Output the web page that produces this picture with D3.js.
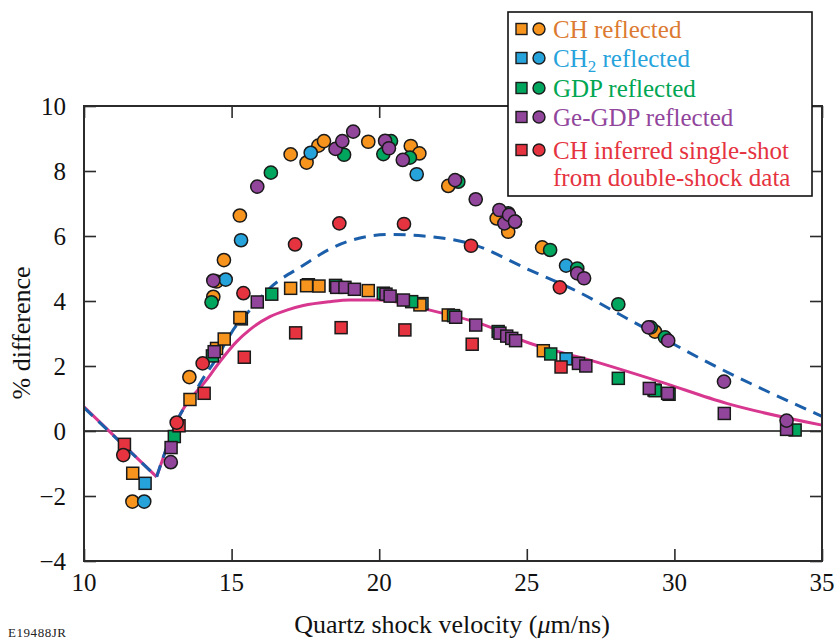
<!DOCTYPE html>
<html>
<head>
<meta charset="utf-8">
<script src="https://cdn.jsdelivr.net/npm/d3@7/dist/d3.min.js"></script>
<style>
  html, body { margin: 0; padding: 0; background: #fff; }
  svg { display: block; }
  svg text { font-family: "Liberation Serif", "Times New Roman", serif; }
</style>
</head>
<body>
<svg id="chart" width="835" height="641"></svg>
<script>
// ---- data: [quartz shock velocity (um/ns), % difference] ----
const chSquares = [[11.65,-1.30],[13.59,0.97],[14.49,2.54],[14.75,2.83],[15.28,3.49],[17.00,4.39],[17.54,4.47],[17.96,4.46],[19.63,4.32],[21.38,3.88],[22.34,3.57],[25.56,2.47],[29.31,1.26]];
const ch2Squares = [[12.07,-1.61],[15.33,3.45],[17.60,4.50],[21.45,3.92],[26.33,2.22]];
const gdpSquares = [[13.06,-0.17],[14.35,2.31],[16.36,4.21],[18.52,4.48],[20.14,4.24],[21.10,3.98],[22.52,3.55],[24.03,3.06],[25.81,2.37],[28.10,1.62],[29.35,1.24],[29.82,1.13],[34.09,0.03]];
const geSquares = [[12.95,-0.51],[14.41,2.44],[15.87,3.97],[18.56,4.42],[18.84,4.42],[19.16,4.36],[20.23,4.21],[20.37,4.15],[20.82,4.03],[22.59,3.50],[23.27,3.26],[24.09,3.01],[24.32,2.92],[24.49,2.85],[24.62,2.78],[26.75,2.08],[27.00,2.00],[29.15,1.31],[29.77,1.16],[31.69,0.54],[33.80,0.05]];
const redSquares = [[11.37,-0.41],[13.22,0.16],[14.07,1.16],[15.43,2.27],[17.17,3.02],[18.71,3.18],[20.87,3.11],[23.15,2.67],[26.16,1.97]];

const chCircles = [[11.64,-2.17],[13.57,1.66],[14.38,4.13],[14.49,4.60],[14.74,5.26],[15.28,6.63],[17.00,8.51],[17.54,8.26],[17.94,8.78],[18.13,8.92],[19.63,8.90],[21.07,8.77],[21.36,8.54],[22.34,7.54],[23.98,6.54],[24.37,6.13],[25.52,5.65],[29.34,3.06]];
const ch2Circles = [[12.04,-2.17],[14.80,4.66],[15.32,5.87],[17.68,8.56],[21.27,7.90],[26.33,5.09]];
const gdpCircles = [[14.32,3.96],[16.33,7.95],[18.81,8.50],[20.14,8.52],[20.40,8.92],[21.04,8.41],[22.68,7.67],[24.37,6.70],[24.60,6.44],[25.79,5.57],[26.71,5.00],[28.10,3.90],[29.20,3.19],[29.68,2.88]];
const geCircles = [[12.94,-0.96],[14.38,4.63],[15.87,7.52],[18.52,8.68],[18.75,8.92],[19.12,9.21],[20.20,8.93],[20.33,8.70],[20.80,8.34],[22.57,7.72],[23.27,7.13],[24.07,6.80],[24.24,6.39],[24.40,6.65],[24.60,6.44],[26.71,4.85],[26.94,4.70],[29.12,3.19],[29.79,2.78],[31.68,1.52],[33.80,0.32]];
const redCircles = [[11.33,-0.74],[13.14,0.26],[14.02,2.08],[15.40,4.24],[17.15,5.74],[18.65,6.39],[20.84,6.37],[23.11,5.70],[26.12,4.42]];

// model curves (kink at the low-velocity minimum)
const dashedCurve = [[10,0.72],[12.46,-1.41],[12.69,-0.79],[13.25,0.49],[13.59,0.95],[14.15,1.78],[14.38,2.08],[15.17,3.26],[15.62,3.72],[16.30,4.40],[17.43,5.10],[18.33,5.60],[18.90,5.82],[20.37,6.05],[21.50,6.00],[23.07,5.77],[25.10,4.95],[26.70,4.30],[28.38,3.47],[31.20,2.08],[35,0.45]];
const solidCurve = [[10,0.74],[12.46,-1.41],[13.25,0.49],[14.15,1.57],[14.60,2.13],[15.17,2.75],[15.62,3.12],[16.30,3.52],[16.87,3.72],[17.43,3.86],[18.33,3.98],[19.00,4.03],[20.03,4.03],[21.72,3.72],[23.41,3.31],[25.10,2.70],[27.14,2.18],[29.50,1.52],[31.77,0.85],[35,0.18]];

const xTicks = [10, 15, 20, 25, 30, 35];
const yTicks = [-4, -2, 0, 2, 4, 6, 8, 10];

const legendLabels = ["CH reflected", "CH2 reflected", "GDP reflected", "Ge-GDP reflected", "CH inferred single-shot"];
const markerColors = ["#f7941d", "#27a3dc", "#00a65e", "#91469c", "#e5333f"];
const textColors   = ["#dc7a31", "#27a3dc", "#00a652", "#91469c", "#e5333f"];

// ---- layout ----
const svg = d3.select("#chart");
const L = 84, R = 822, T = 106, B = 561;
const x = d3.scaleLinear().domain([10, 35]).range([L, R]);
const y = d3.scaleLinear().domain([-4, 10]).range([B, T]);
const ink = "#2b2b2b";

// zero line
svg.append("line").attr("x1", L).attr("x2", R).attr("y1", y(0)).attr("y2", y(0))
  .attr("stroke", "#111").attr("stroke-width", 1.5);

// curves: straight segment down to the kink, smooth afterwards
function drawCurve(pts, color, dash) {
  const seg1 = pts.slice(0, 2), seg2 = pts.slice(1);
  const lin = d3.line().x(d => x(d[0])).y(d => y(d[1]));
  const smooth = d3.line().x(d => x(d[0])).y(d => y(d[1])).curve(d3.curveMonotoneX);
  [[seg1, lin], [seg2, smooth]].forEach(([s, gen]) => {
    svg.append("path").attr("d", gen(s)).attr("fill", "none")
      .attr("stroke", color).attr("stroke-width", 3)
      .attr("stroke-dasharray", dash || null);
  });
}
drawCurve(solidCurve, "#d8378f", null);
drawCurve(dashedCurve, "#1b5ea9", "12,8");

// markers
const sq = 12, rad = 6.6;
function squares(data, color) {
  svg.append("g").selectAll("rect").data(data).join("rect")
    .attr("x", d => x(d[0]) - sq / 2).attr("y", d => y(d[1]) - sq / 2)
    .attr("width", sq).attr("height", sq)
    .attr("fill", color).attr("stroke", "#1a1a1a").attr("stroke-width", 1.5);
}
function circles(data, color) {
  svg.append("g").selectAll("circle").data(data).join("circle")
    .attr("cx", d => x(d[0])).attr("cy", d => y(d[1])).attr("r", rad)
    .attr("fill", color).attr("stroke", "#1a1a1a").attr("stroke-width", 1.5);
}
squares(ch2Squares, markerColors[1]);
squares(chSquares, markerColors[0]);
squares(gdpSquares, markerColors[2]);
squares(geSquares, markerColors[3]);
squares(redSquares, markerColors[4]);
circles(chCircles, markerColors[0]);
circles(ch2Circles, markerColors[1]);
circles(gdpCircles, markerColors[2]);
circles(geCircles, markerColors[3]);
circles(redCircles, markerColors[4]);

// frame and inward ticks on all four sides
const tl = 12;
svg.append("g").attr("transform", `translate(0,${B})`)
  .call(d3.axisTop(x).tickValues(xTicks).tickSize(tl).tickFormat(""))
  .call(g => g.select(".domain").remove());
svg.append("g").attr("transform", `translate(0,${T})`)
  .call(d3.axisBottom(x).tickValues(xTicks).tickSize(tl).tickFormat(""))
  .call(g => g.select(".domain").remove());
svg.append("g").attr("transform", `translate(${L},0)`)
  .call(d3.axisRight(y).tickValues(yTicks).tickSize(tl).tickFormat(""))
  .call(g => g.select(".domain").remove());
svg.append("g").attr("transform", `translate(${R},0)`)
  .call(d3.axisLeft(y).tickValues(yTicks).tickSize(tl).tickFormat(""))
  .call(g => g.select(".domain").remove());
svg.selectAll(".tick line").attr("stroke", ink).attr("stroke-width", 1.6);
svg.append("rect").attr("x", L).attr("y", T).attr("width", R - L).attr("height", B - T)
  .attr("fill", "none").attr("stroke", ink).attr("stroke-width", 2);

// tick labels
const fmt = v => (v < 0 ? "\u2212" + Math.abs(v) : String(v));
svg.append("g").selectAll("text").data(xTicks).join("text")
  .attr("x", d => x(d)).attr("y", 591).attr("text-anchor", "middle")
  .attr("font-size", 25).attr("fill", "#111").text(fmt);
svg.append("g").selectAll("text").data(yTicks).join("text")
  .attr("x", 66).attr("y", d => y(d) + 8.5).attr("text-anchor", "end")
  .attr("font-size", 25).attr("fill", "#111").text(fmt);

// axis titles
const xt = svg.append("text").attr("x", 452).attr("y", 633).attr("text-anchor", "middle")
  .attr("font-size", 26).attr("fill", "#111");
xt.append("tspan").text("Quartz shock velocity (");
xt.append("tspan").attr("font-style", "italic").text("\u03bc");
xt.append("tspan").text("m/ns)");
svg.append("text").attr("transform", "translate(30,333) rotate(-90)")
  .attr("text-anchor", "middle").attr("font-size", 26).attr("fill", "#111")
  .text("% difference");
svg.append("text").attr("x", 8).attr("y", 637).attr("font-size", 13)
  .attr("fill", "#222").attr("textLength", 58).text("E19488JR");

// legend
const lg = svg.append("g");
lg.append("rect").attr("x", 508).attr("y", 12).attr("width", 304).attr("height", 184)
  .attr("fill", "#fff").attr("stroke", "#111").attr("stroke-width", 1.6);
const rowY = [29, 58, 88, 117, 150];
legendLabels.forEach((lab, i) => {
  const cy = rowY[i];
  lg.append("rect").attr("x", 516).attr("y", cy - 5.5).attr("width", 11).attr("height", 11)
    .attr("fill", markerColors[i]).attr("stroke", "#1a1a1a").attr("stroke-width", 1.4);
  lg.append("circle").attr("cx", 539).attr("cy", cy).attr("r", 6)
    .attr("fill", markerColors[i]).attr("stroke", "#1a1a1a").attr("stroke-width", 1.4);
  const t = lg.append("text").attr("x", 553).attr("y", cy + 8.5)
    .attr("font-size", 25).attr("fill", textColors[i]);
  if (lab.startsWith("CH2")) {
    t.append("tspan").text("CH");
    t.append("tspan").attr("font-size", 17).attr("dy", 5).text("2");
    t.append("tspan").attr("dy", -5).text(" reflected");
  } else {
    t.text(lab);
  }
});
lg.append("text").attr("x", 553).attr("y", 186).attr("font-size", 25)
  .attr("fill", textColors[4]).text("from double-shock data");
</script>
</body>
</html>
